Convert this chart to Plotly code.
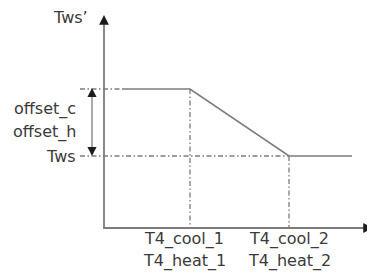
import plotly.graph_objects as go

# --- chart values (schematic units; origin at axis crossing) ---
curve_x = [18, 86, 185, 248]          # Tws' curve breakpoints (T4)
curve_y = [139, 139, 72, 72]          # Tws' values
t4_ticks = [86, 185]                  # T4_cool_1/heat_1, T4_cool_2/heat_2
t4_labels = [["T4_cool_1", "T4_heat_1"], ["T4_cool_2", "T4_heat_2"]]
tws_level = 72                        # Tws
top_level = 139                       # Tws + offset
y_axis_top = 213
x_axis_end = 269
offset_x = -12

LINE = "#7c7c7c"
HEAD = "#1c1c1c"
TXT = "#3a3a3a"
FONT = dict(family="DejaVu Sans", size=16, color=TXT)
DASHDOT = "5px,2.5px,1.5px,2.5px"

fig = go.Figure()

# axes lines
fig.add_trace(go.Scatter(x=[0, 0, x_axis_end - 4], y=[y_axis_top - 4, 0, 0], mode="lines",
                         line=dict(color=LINE, width=1.8), hoverinfo="skip"))
# offset double-arrow shaft
fig.add_trace(go.Scatter(x=[offset_x, offset_x], y=[top_level - 4, tws_level + 4], mode="lines",
                         line=dict(color=LINE, width=1.3), hoverinfo="skip"))
# main curve
fig.add_trace(go.Scatter(x=curve_x, y=curve_y, mode="lines",
                         line=dict(color=LINE, width=1.7), hoverinfo="skip"))
# dash-dot guides
guide = dict(color=LINE, width=1.3, dash=DASHDOT)
fig.add_trace(go.Scatter(x=[-24, curve_x[0]], y=[top_level, top_level], mode="lines",
                         line=guide, hoverinfo="skip"))
fig.add_trace(go.Scatter(x=[-24, t4_ticks[1]], y=[tws_level, tws_level], mode="lines",
                         line=guide, hoverinfo="skip"))
fig.add_trace(go.Scatter(x=[t4_ticks[0], t4_ticks[0]], y=[top_level, 0], mode="lines",
                         line=guide, hoverinfo="skip"))
fig.add_trace(go.Scatter(x=[t4_ticks[1], t4_ticks[1]], y=[tws_level, 0], mode="lines",
                         line=guide, hoverinfo="skip"))

ann = []


def head(x, y, dx, dy, scale=1.15, w=1.7):
    ann.append(dict(x=x, y=y, ax=x - dx, ay=y - dy, xref="x", yref="y",
                    axref="x", ayref="y", showarrow=True, arrowhead=2,
                    arrowsize=scale, arrowwidth=w, arrowcolor=HEAD, text="",
                    standoff=0, startstandoff=0))


head(0, y_axis_top, 0, 9)
head(x_axis_end, 0, 9, 0)
head(offset_x, top_level + 1, 0, 8, scale=1.3, w=1.4)
head(offset_x, tws_level, 0, -8, scale=1.3, w=1.4)

# texts
ann.append(dict(x=-14, y=211, xref="x", yref="y", text="Tws’", showarrow=False,
                xanchor="right", yanchor="middle", font=FONT))
ann.append(dict(x=-26, y=119, xref="x", yref="y", text="offset_c", showarrow=False,
                xanchor="right", yanchor="middle", font=FONT))
ann.append(dict(x=-26, y=96, xref="x", yref="y", text="offset_h", showarrow=False,
                xanchor="right", yanchor="middle", font=FONT))
ann.append(dict(x=-26, y=tws_level, xref="x", yref="y", text="Tws", showarrow=False,
                xanchor="right", yanchor="middle", font=FONT))
for xt, labs, shift in zip(t4_ticks, t4_labels, [-6, 0]):
    ann.append(dict(x=xt + shift, y=-11, xref="x", yref="y", text=labs[0], showarrow=False,
                    xanchor="center", yanchor="middle", font=FONT))
    ann.append(dict(x=xt + shift, y=-33, xref="x", yref="y", text=labs[1], showarrow=False,
                    xanchor="center", yanchor="middle", font=FONT))

fig.update_layout(
    width=375, height=273, margin=dict(l=0, r=0, t=0, b=0),
    paper_bgcolor="white", plot_bgcolor="white", showlegend=False,
    xaxis=dict(range=[-96, 279], visible=False, fixedrange=True),
    yaxis=dict(range=[-53, 220], visible=False, fixedrange=True),
    annotations=ann,
)

fig.write_html("out.html")
